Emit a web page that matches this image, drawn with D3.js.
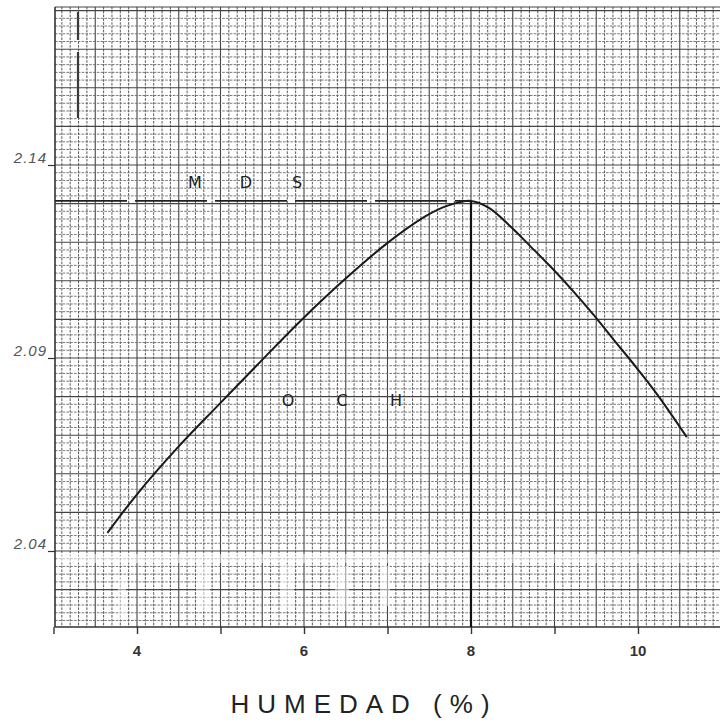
<!DOCTYPE html>
<html>
<head>
<meta charset="utf-8">
<script src="https://cdn.jsdelivr.net/npm/d3@7"></script>
<style>
  html, body { margin: 0; padding: 0; background: #fff; }
  svg { display: block; }
</style>
</head>
<body>
<svg id="chart" width="720" height="723"></svg>
<script>
// ---- Data ----
const moisture = [3.646, 3.993, 4.483, 4.974, 5.476, 5.967, 6.469, 6.971, 7.462, 7.713, 8.0, 8.215, 8.467, 8.718, 8.969, 9.220, 9.471, 9.722, 9.974, 10.225, 10.584];
const density  = [2.0447, 2.0545, 2.0667, 2.0778, 2.0890, 2.0998, 2.1100, 2.1193, 2.1268, 2.1294, 2.1307, 2.1289, 2.1242, 2.1188, 2.1133, 2.1074, 2.1011, 2.0944, 2.0877, 2.0807, 2.0695];
const xTickValues = [3, 4, 5, 6, 7, 8, 9, 10];
const xTickLabels = ["4", "6", "8", "10"];
const yTickValues = [2.04, 2.09, 2.14];
const yTickLabels = ["2.04", "2.09", "2.14"];
const mds = 2.1307;   // máxima densidad seca
const och = 8.0;      // óptimo contenido de humedad
const xTitle = "HUMEDAD (%)";
const mdsLetters = ["M", "D", "S"];
const ochLetters = ["O", "C", "H"];

// ---- Layout ----
const svg = d3.select("#chart");
const pL = 55, pT = 7, pB = 627, pR = 720;
const x = d3.scaleLinear().domain([3, 11]).range([53.5, 53.5 + 8 * 83.5]);
const y = d3.scaleLinear().domain([2.04, 2.14]).range([551, 165]);
const yMin = y.invert(pB), yMax = y.invert(pT);

// ---- Grid paper ----
const grid = svg.append("g");
const xs = d3.range(30, 111).map(d => d / 10).filter(d => x(d) >= pL - 0.5 && x(d) <= pR);
const majX = d => Math.round(d * 10) % 5 === 0;
grid.selectAll("line.vx").data(xs).enter().append("line")
  .attr("x1", d => x(d)).attr("x2", d => x(d))
  .attr("y1", pT).attr("y2", pB)
  .attr("stroke", d => majX(d) ? "#444" : "#585858")
  .attr("stroke-width", d => majX(d) ? 1.1 : 1)
  .attr("stroke-dasharray", d => majX(d) ? null : "2.6,1.2");
const ys = d3.range(Math.ceil(yMin * 500), Math.floor(yMax * 500) + 1).map(d => d / 500);
const majY = d => Math.round(d * 500) % 5 === 0;
grid.selectAll("line.hy").data(ys).enter().append("line")
  .attr("x1", pL).attr("x2", pR)
  .attr("y1", d => y(d)).attr("y2", d => y(d))
  .attr("stroke", d => majY(d) ? "#444" : "#6a6a6a")
  .attr("stroke-width", d => majY(d) ? 1.1 : 0.9)
  .attr("stroke-dasharray", d => majY(d) ? null : "2.6,1.2");

// scan artefacts (light bands and pen mark)
const art = svg.append("g");
art.append("rect").attr("x", pL + 2).attr("y", 554).attr("width", pR - pL).attr("height", 9).attr("fill", "#fff").attr("opacity", 0.55);
[[118, 575, 8, 45], [196, 566, 14, 45], [280, 566, 14, 45], [335, 566, 14, 45], [380, 566, 10, 40]].forEach(r => {
  art.append("rect").attr("x", r[0]).attr("y", r[1]).attr("width", r[2]).attr("height", r[3]).attr("fill", "#fff").attr("opacity", 0.5);
});
art.append("path").attr("d", "M78,12V40M78,52V118").attr("stroke", "#3a3a3a").attr("stroke-width", 2.2).attr("fill", "none");

// frame
svg.append("line").attr("x1", pL).attr("x2", pR).attr("y1", pT).attr("y2", pT).attr("stroke", "#444").attr("stroke-width", 1.2);

// ---- Axes ----
const xAxis = d3.axisBottom(x).tickValues(xTickValues).tickSize(7).tickFormat("");
const gx = svg.append("g").attr("transform", `translate(0,${pB})`).call(xAxis);
gx.select(".domain").attr("stroke", "#333").attr("stroke-width", 1.5).attr("d", `M${pL},0H${pR}`);
gx.selectAll(".tick line").attr("stroke", "#333").attr("stroke-width", 1.4);

const yAxis = d3.axisLeft(y).tickValues(yTickValues).tickSize(7).tickFormat("");
const gy = svg.append("g").attr("transform", `translate(${pL},0)`).call(yAxis);
gy.select(".domain").attr("stroke", "#333").attr("stroke-width", 1.6).attr("d", `M0,${pT}V${pB}`);
gy.selectAll(".tick line").attr("stroke", "#333").attr("stroke-width", 1.2);

svg.append("g").selectAll("text").data(xTickLabels).enter().append("text")
  .attr("x", d => x(+d)).attr("y", 656)
  .attr("text-anchor", "middle")
  .attr("font-family", "Liberation Sans, Arial, sans-serif")
  .attr("font-size", 15).attr("font-weight", "bold")
  .attr("fill", "#333").text(d => d);

svg.append("g").selectAll("text").data(yTickLabels).enter().append("text")
  .attr("x", 47).attr("y", d => y(+d) - 2)
  .attr("text-anchor", "end")
  .attr("font-family", "Liberation Sans, Arial, sans-serif")
  .attr("font-size", 15).attr("font-style", "italic").attr("letter-spacing", 1)
  .attr("fill", "#555").text(d => d);

// ---- Reference lines ----
svg.append("line")
  .attr("x1", pL).attr("x2", x(och))
  .attr("y1", y(mds)).attr("y2", y(mds))
  .attr("stroke", "#222").attr("stroke-width", 1.8)
  .attr("stroke-dasharray", "72,8");
svg.append("line")
  .attr("x1", x(och)).attr("x2", x(och))
  .attr("y1", y(mds)).attr("y2", pB)
  .attr("stroke", "#111").attr("stroke-width", 2.2);

// letters
const letterFont = "DejaVu Sans, Liberation Sans, sans-serif";
svg.append("g").selectAll("text").data(mdsLetters).enter().append("text")
  .attr("x", (d, i) => 195 + i * 51).attr("y", y(mds) - 13)
  .attr("text-anchor", "middle").attr("font-family", letterFont)
  .attr("font-size", 16).attr("fill", "#222").text(d => d);
svg.append("g").selectAll("text").data(ochLetters).enter().append("text")
  .attr("x", (d, i) => 288 + i * 54).attr("y", 406)
  .attr("text-anchor", "middle").attr("font-family", letterFont)
  .attr("font-size", 16).attr("fill", "#222").text(d => d);

// ---- Curve ----
const pts = moisture.map((m, i) => [m, density[i]]);
svg.append("path").datum(pts)
  .attr("fill", "none").attr("stroke", "#1a1a1a").attr("stroke-width", 2)
  .attr("d", d3.line().x(d => x(d[0])).y(d => y(d[1])).curve(d3.curveCatmullRom.alpha(0.5)));

// ---- Axis title ----
svg.append("text")
  .attr("x", 364).attr("y", 713)
  .attr("text-anchor", "middle")
  .attr("font-family", "Liberation Sans, Arial, sans-serif")
  .attr("font-size", 26).attr("letter-spacing", 8)
  .attr("fill", "#222").text(xTitle);
</script>
</body>
</html>
